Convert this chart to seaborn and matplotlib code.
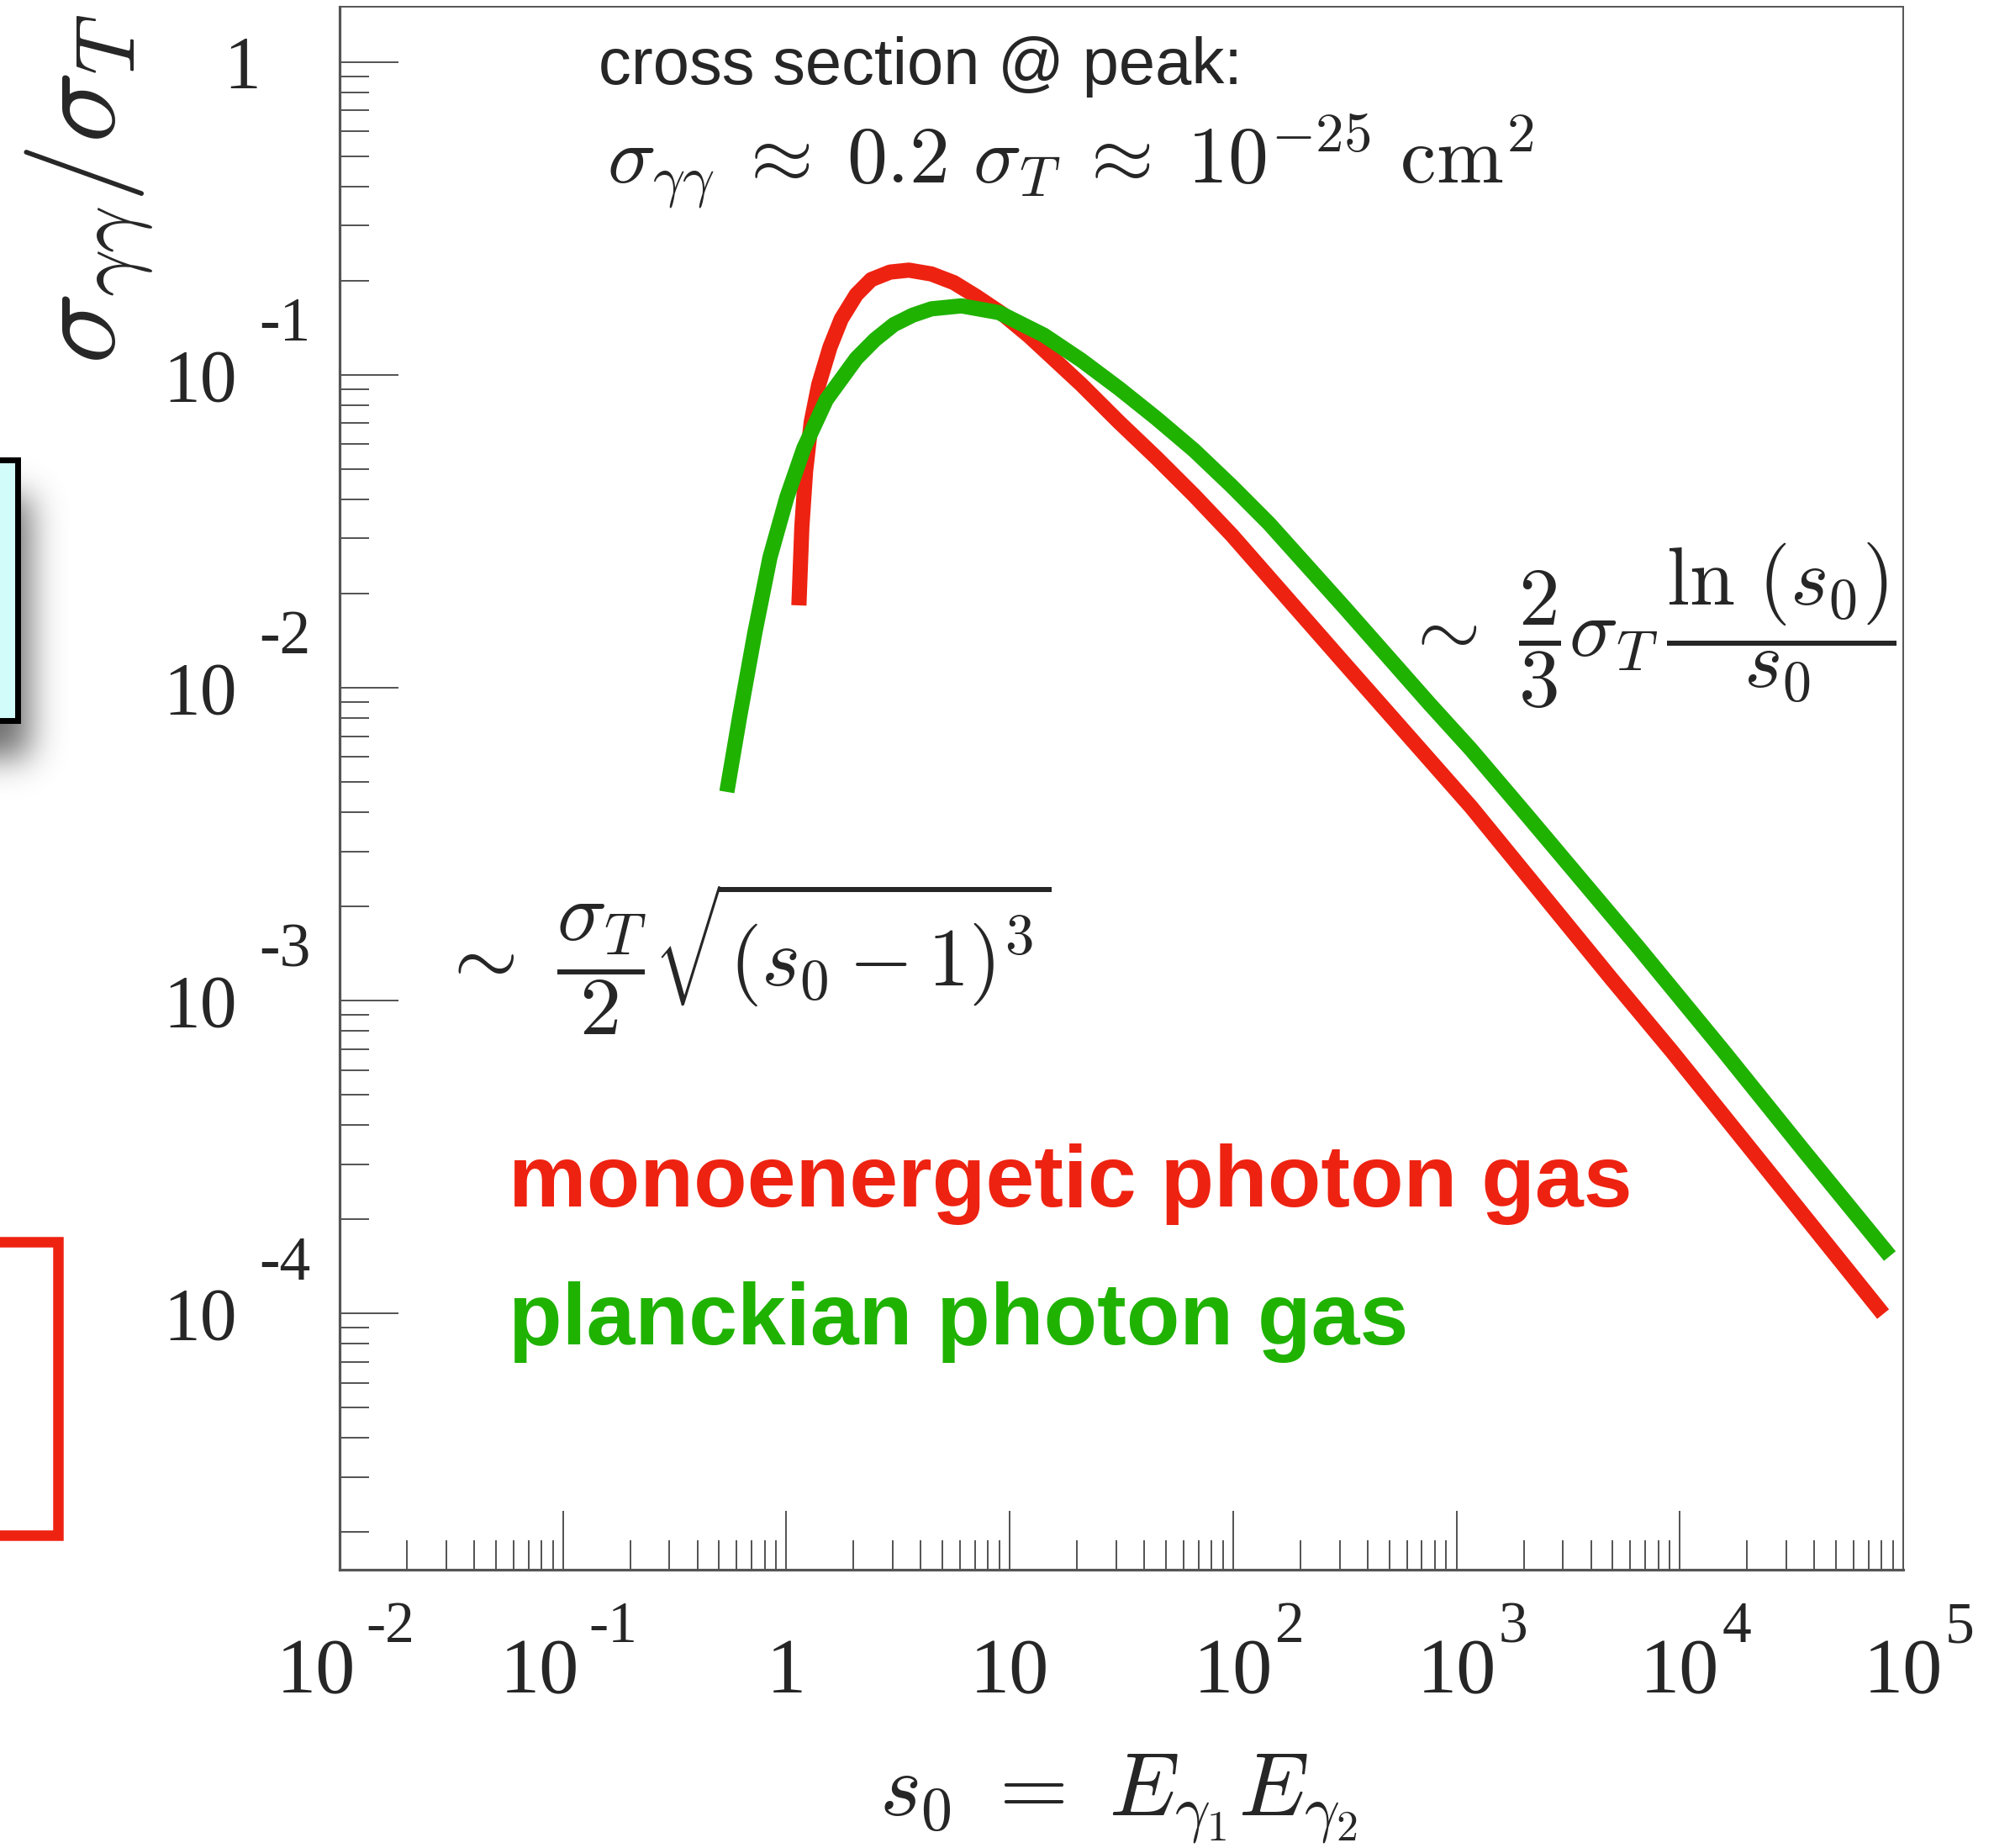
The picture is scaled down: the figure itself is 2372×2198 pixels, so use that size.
import numpy as np
import pandas as pd
import matplotlib
matplotlib.use("Agg")
import matplotlib.pyplot as plt
import matplotlib.transforms as mtransforms
from matplotlib.patches import Rectangle
from matplotlib.ticker import LogLocator, NullFormatter
import seaborn as sns

# ---------------------------------------------------------------- data
# monoenergetic photon gas: sigma_gg / sigma_T versus s0
mono_s0 = [1.138, 1.173, 1.2195, 1.292, 1.396, 1.568, 1.761, 2.0565, 2.399,
           2.912, 3.535, 4.460, 5.620, 7.089, 9.299, 12.18, 15.98, 20.94,
           30.85, 45.41, 66.91, 98.45, 144.9, 317.1, 754.6, 1164.0, 4935.0,
           9180.0, 21210.0, 81280.0]
mono_sigma = [0.01832, 0.03255, 0.04926, 0.07056, 0.09296, 0.1225, 0.1507,
              0.1803, 0.2014, 0.2128, 0.2159, 0.2099, 0.1970, 0.1779, 0.1562,
              0.1331, 0.1112, 0.09296, 0.07056, 0.05424, 0.04116, 0.03079,
              0.02248, 0.01189, 0.005898, 0.004152, 0.001175, 0.0006905,
              0.0003286, 0.00009956]

# planckian photon gas
planck_s0 = [0.5414, 0.6198, 0.7231, 0.8446, 1.0053, 1.1965, 1.510, 2.0565,
             2.495, 3.027, 3.672, 4.460, 6.076, 8.943, 14.23, 20.94, 30.85,
             45.41, 66.91, 98.45, 144.9, 317.1, 754.6, 1164.0, 2074.0,
             6586.0, 15670.0, 36220.0, 87140.0]
planck_sigma = [0.004643, 0.008179, 0.01502, 0.02609, 0.04060, 0.05813,
                0.08322, 0.1127, 0.1295, 0.1446, 0.1549, 0.1624, 0.1660,
                0.1580, 0.1338, 0.1112, 0.09042, 0.07251, 0.05734, 0.04410,
                0.03344, 0.01795, 0.008903, 0.006335, 0.003902, 0.001466,
                0.0006905, 0.0003286, 0.0001526]

series_names = ["monoenergetic photon gas", "planckian photon gas"]
series_colors = ["#EE2211", "#1FB200"]

xtick_vals = [1e-2, 1e-1, 1.0, 10.0, 1e2, 1e3, 1e4, 1e5]
xtick_base = ["10", "10", "1", "10", "10", "10", "10", "10"]
xtick_exp = ["-2", "-1", "", "", "2", "3", "4", "5"]

ytick_vals = [1.0, 1e-1, 1e-2, 1e-3, 1e-4]
ytick_base = ["1", "10", "10", "10", "10"]
ytick_exp = ["", "-1", "-2", "-3", "-4"]

# ---------------------------------------------------------------- figure
W, H, DPI = 2372, 2198, 100
sns.set_theme(style="white")
plt.rcParams["font.family"] = ["Liberation Serif", "DejaVu Serif"]
plt.rcParams["mathtext.fontset"] = "cm"

fig = plt.figure(figsize=(W / DPI, H / DPI), dpi=DPI)
fig.patch.set_facecolor("white")


def fx(x):
    return x / W


def fy(y):
    return 1.0 - y / H


ax_left, ax_right, ax_top, ax_bottom = 404, 2264, 8, 1867
ax = fig.add_axes([fx(ax_left), fy(ax_bottom),
                   (ax_right - ax_left) / W, (ax_bottom - ax_top) / H])
ax.set_xscale("log")
ax.set_yscale("log")

df = pd.concat([
    pd.DataFrame({"s0": mono_s0, "ratio": mono_sigma, "gas": series_names[0]}),
    pd.DataFrame({"s0": planck_s0, "ratio": planck_sigma, "gas": series_names[1]}),
], ignore_index=True)

sns.lineplot(data=df, x="s0", y="ratio", hue="gas", hue_order=series_names,
             palette=dict(zip(series_names, series_colors)), estimator=None,
             sort=False, lw=13, legend=False, ax=ax)
for line in ax.lines:
    line.set_solid_capstyle("butt")
    line.set_solid_joinstyle("round")

ax.set_xlim(1e-2, 1e5)
ax.set_ylim(1.518e-5, 1.4997)
ax.set_xlabel("")
ax.set_ylabel("")

for axis in (ax.xaxis, ax.yaxis):
    axis.set_major_locator(LogLocator(base=10, numticks=30))
    axis.set_minor_locator(LogLocator(base=10, subs=np.arange(2, 10), numticks=30))
    axis.set_minor_formatter(NullFormatter())
ax.tick_params(which="both", direction="in", bottom=True, left=True,
               top=False, right=False, labelbottom=False, labelleft=False,
               color="#444444", width=1.3)
ax.tick_params(which="major", length=50.5)
ax.tick_params(which="minor", length=25)

for name, sp in ax.spines.items():
    sp.set_color("#555555")
    sp.set_linewidth(2.3 if name in ("left", "bottom") else 1.4)

# ---------------------------------------------------------------- tick labels
xtrans = mtransforms.blended_transform_factory(ax.transData, ax.transAxes)
for v, base, ex in zip(xtick_vals, xtick_base, xtick_exp):
    shift = -28 if ex.startswith("-") else 0
    ax.text(v, 0, base, fontsize=68, ha="center", va="baseline",
            transform=mtransforms.offset_copy(xtrans, fig=fig, x=shift, y=-146, units="dots"))
    if ex:
        ex_dx = 31 if ex.startswith("-") else 50
        ax.text(v, 0, ex, fontsize=50, ha="left", va="baseline",
                transform=mtransforms.offset_copy(xtrans, fig=fig, x=ex_dx, y=-86, units="dots"))

ytrans = mtransforms.blended_transform_factory(ax.transAxes, ax.transData)
for v, base, ex in zip(ytick_vals, ytick_base, ytick_exp):
    base_dx = -122 if ex else -94
    ax.text(0, v, base, fontsize=63, ha="right", va="baseline",
            transform=mtransforms.offset_copy(ytrans, fig=fig, x=base_dx, y=-30.5, units="dots"))
    if ex:
        ax.text(0, v, ex, fontsize=53, ha="left", va="baseline",
                transform=mtransforms.offset_copy(ytrans, fig=fig, x=-96, y=40.5, units="dots"))

# ---------------------------------------------------------------- axis titles
fig.text(fx(106), fy(17), r"$\sigma_{\gamma\gamma}/\sigma_T$", fontsize=102,
         rotation=90, ha="center", va="top")
fig.text(fx(1330), fy(2160), r"$s_0\ =\ E_{\gamma_1}E_{\gamma_2}$", fontsize=76,
         ha="center", va="baseline")

# ---------------------------------------------------------------- annotations
fig.text(fx(712), fy(100), "cross section @ peak:", fontsize=56,
         family=["Liberation Sans", "DejaVu Sans"], ha="left", va="baseline")
fig.text(fx(722), fy(217),
         r"$\sigma_{\gamma\gamma}\;\approx\;0.2\ \sigma_T\;\approx\;10^{-25}\ \mathrm{cm}^2$",
         fontsize=69, ha="left", va="baseline")
fig.text(fx(522), fy(1140), r"$\sim\ \dfrac{\sigma_T}{2}\sqrt{(s_0 - 1)^3}$",
         fontsize=71, ha="left", va="center")
fig.text(fx(1668), fy(744), r"$\sim\ \dfrac{2}{3}\sigma_T\,\dfrac{\ln\,(s_0)}{s_0}$",
         fontsize=70, ha="left", va="center")

fig.text(fx(605), fy(1435), series_names[0], fontsize=75, fontweight="bold",
         family=["Liberation Sans", "DejaVu Sans"], color=series_colors[0],
         ha="left", va="baseline")
fig.text(fx(605), fy(1599), series_names[1], fontsize=75, fontweight="bold",
         family=["Liberation Sans", "DejaVu Sans"], color=series_colors[1],
         ha="left", va="baseline")

# ---------------------------------------------------------------- slide boxes at the left edge
# soft drop shadow under the cyan box
cx0, cx1, cy0, cy1 = 0, 170, 470, 1010
gx = np.arange(cx0, cx1)[None, :]
gy = np.arange(cy0, cy1)[:, None]
mask = ((gx <= 34) & (gy >= 590) & (gy <= 900)).astype(float)
sig = 20.0
k = np.exp(-0.5 * (np.arange(-60, 61) / sig) ** 2)
k /= k.sum()
pad = 60
mp = np.pad(mask, pad, mode="edge")
mp = np.apply_along_axis(lambda r: np.convolve(r, k, mode="same"), 1, mp)
mp = np.apply_along_axis(lambda c: np.convolve(c, k, mode="same"), 0, mp)
blur = mp[pad:-pad, pad:-pad]
rgba = np.zeros(blur.shape + (4,))
rgba[..., :3] = 0.28
rgba[..., 3] = 0.8 * blur
fig.figimage(rgba, xo=cx0, yo=H - cy1, origin="upper", resize=False, zorder=1)

fig.add_artist(Rectangle((fx(-40), fy(856.5)), (21 + 40) / W, (856.5 - 546.5) / H,
                         transform=fig.transFigure, facecolor="#D2FCFA",
                         edgecolor="black", linewidth=5, zorder=3))
fig.add_artist(Rectangle((fx(-40), fy(1826)), (69 + 40) / W, (1826 - 1477) / H,
                         transform=fig.transFigure, facecolor="none",
                         edgecolor=series_colors[0], linewidth=9, zorder=3))

fig.savefig("out.png", dpi=DPI)
